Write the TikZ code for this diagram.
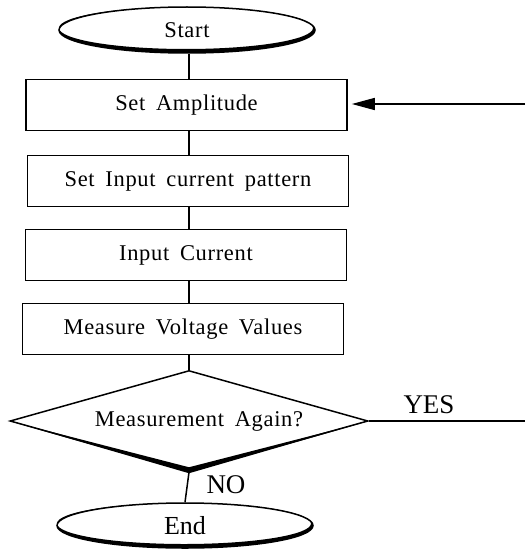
\documentclass[tikz,border=0pt]{standalone}
\usepackage{fontspec}
\setmainfont{Liberation Serif}
\newfontfamily\boxfont[LetterSpace=3,WordSpace=1.7]{Liberation Serif}
\usetikzlibrary{shapes.geometric,arrows.meta}
\begin{document}
\begin{tikzpicture}[x=1pt,y=-1pt,
  every node/.style={inner sep=0pt},
  flow/.style={line width=1.5pt},
  boxtxt/.style={font=\boxfont\fontsize{22.5}{26}\selectfont},
  pbox/.style={draw,line width=1.6pt,rectangle,minimum width=321pt,minimum height=51pt,boxtxt},
  term/.style={draw,line width=1.5pt,ellipse,minimum width=256pt,minimum height=46pt},
  big/.style={font=\fontsize{27}{30}\selectfont}
]
\useasboundingbox (0,0) rectangle (525,551);
% nodes
\node[term,boxtxt] (s) at (187,30) {Start};
\node[pbox] (b1) at (186.5,105) {Set Amplitude};
\node[pbox] (b2) at (188,181) {Set Input current pattern};
\node[pbox] (b3) at (186,255) {Input Current};
\node[pbox] (b4) at (183,329) {Measure Voltage Values};
\node[draw,diamond,line width=1.5pt,minimum width=358pt,minimum height=101pt] (d) at (189,421) {};
\node[boxtxt] (dt) at (199,421) {Measurement Again?};
\node[term,minimum height=45pt,font=\fontsize{26}{30}\selectfont] (e) at (185,525.5) {End};
\node[big,anchor=base] (yes) at (429,413) {YES};
\node[big,anchor=base] (no) at (226,493) {NO};
\coordinate (rin) at (525,104);
\coordinate (yout) at (525,421);
% heavy lower edges
\fill[even odd rule] (s.center) ellipse [x radius=128pt, y radius=23pt]
  ([xshift=-1pt,yshift=2pt]s.center) ellipse [x radius=127pt, y radius=21pt];
\fill[even odd rule] (e.center) ellipse [x radius=128pt, y radius=22.5pt]
  ([xshift=-1pt,yshift=2pt]e.center) ellipse [x radius=127pt, y radius=20.5pt];
\fill (d.west) -- ([yshift=-1pt]d.south) -- (d.east) -- ([yshift=5pt]d.south) -- cycle;
% connectors
\draw[flow] (s.south -| d.north) -- (b1.north -| d.north);
\draw[flow] (b1.south -| d.north) -- (b2.north -| d.north);
\draw[flow] (b2.south -| d.north) -- (b3.north -| d.north);
\draw[flow] (b3.south -| d.north) -- (b4.north -| d.north);
\draw[flow] (b4.south -| d.north) -- (d.north);
\draw[flow] (d.south) -- (e.north);
\draw[flow] (d.east) -- (yout);
\draw[flow,-{Triangle[length=23pt,width=12pt]},shorten >=4pt] (rin) -- (rin -| b1.east);
\end{tikzpicture}
\end{document}
